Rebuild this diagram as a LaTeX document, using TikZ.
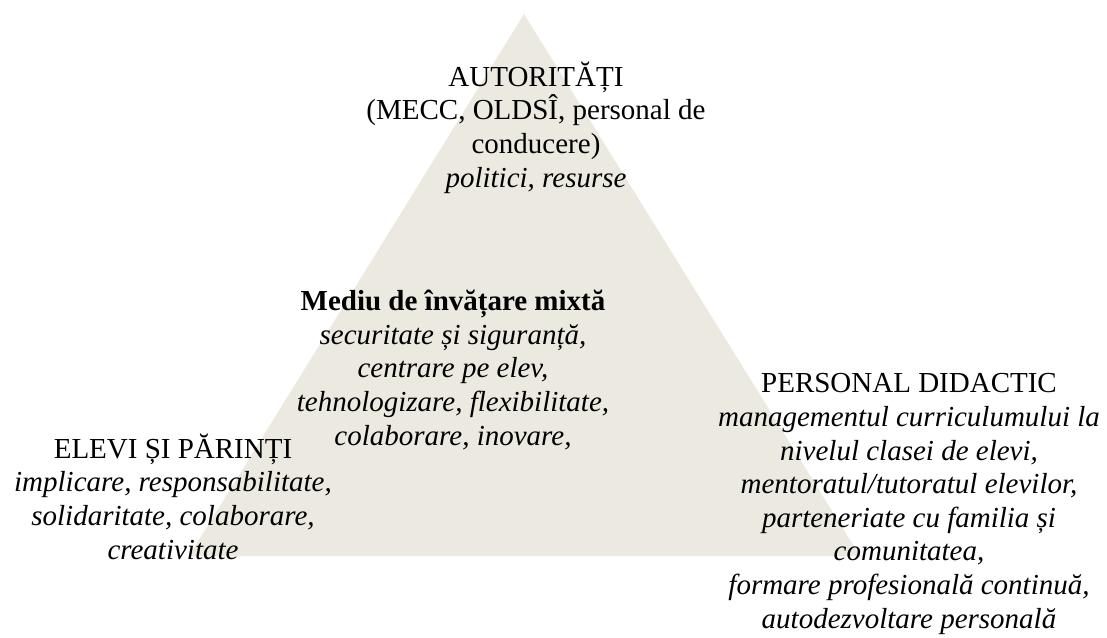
\documentclass[tikz,border=0pt]{standalone}
\usepackage{fontspec}
\setmainfont{Liberation Serif}
\definecolor{beige}{RGB}{236,234,224}
\tikzset{
  label block/.style={align=center, inner sep=0pt, anchor=base, font=\fontsize{29}{33.6}\selectfont},
}
\begin{document}
\begin{tikzpicture}[x=1pt,y=-1pt]
\useasboundingbox (0,0) rectangle (1107,637);
\coordinate (apex) at (524,14);
\coordinate (bl) at (189,556);
\coordinate (br) at (860,556);
\fill[beige] (apex) -- (bl) -- (br) -- cycle;
% anchor=base is the baseline of the last line
\node[label block] (top) at (536,187) {AUTORITĂȚI\\(MECC, OLDSÎ, personal de\\conducere)\\\textit{politici, resurse}};
\node[label block] (mid) at (453,445) {\textbf{Mediu de învățare mixtă}\\\textit{securitate și siguranță,}\\\textit{centrare pe elev,}\\\textit{tehnologizare, flexibilitate,}\\\textit{colaborare, inovare,}};
\node[label block] (left) at (173,559) {ELEVI ȘI PĂRINȚI\\\textit{implicare, responsabilitate,}\\\textit{solidaritate, colaborare,}\\\textit{creativitate}};
\node[label block] (right) at (909,628) {PERSONAL DIDACTIC\\\textit{managementul curriculumului la}\\\textit{nivelul clasei de elevi,}\\\textit{mentoratul/tutoratul elevilor,}\\\textit{parteneriate cu familia și}\\\textit{comunitatea,}\\\textit{formare profesională continuă,}\\\textit{autodezvoltare personală}};
\end{tikzpicture}
\end{document}
